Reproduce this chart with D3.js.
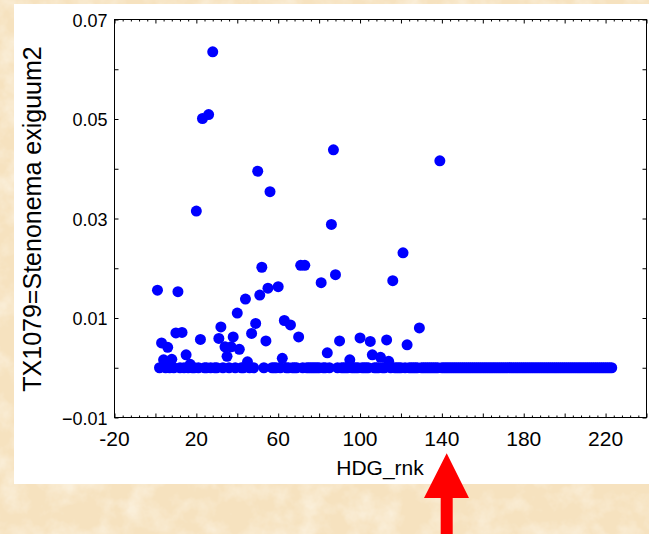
<!DOCTYPE html>
<html>
<head>
<meta charset="utf-8">
<script src="https://cdn.jsdelivr.net/npm/d3@7"></script>
<style>
  html, body { margin: 0; padding: 0; background: #f6e3bf; }
  svg { display: block; }
  text { font-family: "Liberation Sans", Arial, sans-serif; fill: #000; }
</style>
</head>
<body>
<svg id="chart" width="649" height="534"></svg>
<script>
// ---- Data ----
const xTitle = "HDG_rnk";
const yTitle = "TX1079=Stenonema exiguum2";
const xTickLabels = [-20, 20, 60, 100, 140, 180, 220];
const yTickLabels = [-0.01, 0.01, 0.03, 0.05, 0.07];

// sites with a non-zero value: rank and value
const nonzeroRank = [1, 3, 4, 6, 8, 10, 11, 13, 15, 17, 20, 22, 23, 26, 28, 31, 32, 34, 35, 37,
  38, 40, 41, 44, 45, 47, 49, 50, 51, 52, 54, 55, 56, 60, 62, 63, 66, 70, 71, 73,
  81, 84, 86, 87, 88, 90, 95, 100, 105, 106, 110, 113, 114, 116, 121, 123, 129, 139];
const nonzeroValue = [0.0156, 0.0050, 0.0016, 0.0041, 0.0017, 0.0070, 0.0153, 0.0071, 0.0026, 0.0007,
  0.0315, 0.0057, 0.0501, 0.0509, 0.0635, 0.0059, 0.0082, 0.0042, 0.0023, 0.0042,
  0.0062, 0.0110, 0.0037, 0.0138, 0.0012, 0.0069, 0.0089, 0.0395, 0.0146, 0.0202,
  0.0054, 0.0160, 0.0354, 0.0163, 0.0019, 0.0095, 0.0086, 0.0062, 0.0206, 0.0206,
  0.0171, 0.0030, 0.0288, 0.0438, 0.0187, 0.0054, 0.0016, 0.0060, 0.0053, 0.0026,
  0.0021, 0.0056, 0.0013, 0.0175, 0.0231, 0.0046, 0.0080, 0.0416];

// sites with a value of 0
const zeroRank = [2, 5, 7, 9, 12, 14, 16, 18, 19, 21, 24, 25, 27, 29, 30, 33, 36, 39, 42, 43,
  46, 48, 53, 57, 58, 59, 61, 64, 65, 67, 68, 69, 72, 74, 75, 76, 77, 78, 79, 80,
  82, 83, 85, 89, 91, 92, 93, 94, 96, 97, 98, 99, 101, 102, 103, 104, 107, 108, 109, 111,
  112, 115, 117, 118, 119, 120, 122, 124, 125, 126, 127, 128, 130, 131, 132, 133, 134, 135, 136, 137,
  138, 140, 141, 142, 143, 144, 145, 146, 147, 148, 149, 150, 151, 152, 153, 154, 155, 156, 157, 158,
  159, 160, 161, 162, 163, 164, 165, 166, 167, 168, 169, 170, 171, 172, 173, 174, 175, 176, 177, 178,
  179, 180, 181, 182, 183, 184, 185, 186, 187, 188, 189, 190, 191, 192, 193, 194, 195, 196, 197, 198,
  199, 200, 201, 202, 203, 204, 205, 206, 207, 208, 209, 210, 211, 212, 213, 214, 215, 216, 217, 218,
  219, 220, 221, 222, 223];

// ---- Drawing ----
const svg = d3.select("#chart");

// parchment background
const defs = svg.append("defs");
const f = defs.append("filter").attr("id", "paper").attr("x", 0).attr("y", 0).attr("width", "100%").attr("height", "100%");
f.append("feTurbulence").attr("type", "fractalNoise").attr("baseFrequency", "0.04").attr("numOctaves", 4).attr("seed", 7);
f.append("feColorMatrix").attr("type", "matrix")
  .attr("values", "0 0 0 0 1  0 0 0 0 0.98  0 0 0 0 0.92  1.1 0 0 0 -0.45");
svg.append("rect").attr("width", 649).attr("height", 534).attr("fill", "#f6e2bf");
svg.append("rect").attr("width", 649).attr("height", 534).attr("filter", "url(#paper)");

// white panel
svg.append("rect").attr("x", 14).attr("y", 4).attr("width", 635).attr("height", 480).attr("fill", "#fff");

const L = 114.5, R = 646.5, T = 19.5, B = 417.5;
const x = d3.scaleLinear().domain([-20, 240]).range([L, R]);
const y = d3.scaleLinear().domain([-0.01, 0.07]).range([B, T]);

const xMajor = d3.range(-20, 241, 20);
const xMinor = d3.range(-20, 241, 4).filter(v => (v + 20) % 20 !== 0);
const yMajor = d3.range(-0.01, 0.0701, 0.01);

const g = svg.append("g");

// ticks (inward, all four sides)
function addAxis(axisGen, transform) {
  const a = g.append("g").attr("transform", transform).call(axisGen);
  a.select(".domain").remove();
  a.selectAll("text").remove();
  a.selectAll("line").attr("stroke", "#000").attr("stroke-width", 1);
  return a;
}
addAxis(d3.axisBottom(x).tickValues(xMajor).tickSize(-4), `translate(0,${B})`);
addAxis(d3.axisBottom(x).tickValues(xMinor).tickSize(-2), `translate(0,${B})`);
addAxis(d3.axisTop(x).tickValues(xMajor).tickSize(-4), `translate(0,${T})`);
addAxis(d3.axisTop(x).tickValues(xMinor).tickSize(-2), `translate(0,${T})`);
addAxis(d3.axisLeft(y).tickValues(yMajor).tickSize(-4), `translate(${L},0)`);
addAxis(d3.axisRight(y).tickValues(yMajor).tickSize(-4), `translate(${R},0)`);

// frame
g.append("rect").attr("x", L).attr("y", T).attr("width", R - L).attr("height", B - T)
  .attr("fill", "none").attr("stroke", "#000").attr("stroke-width", 1);

// tick labels
const fmtY = d3.format(".2f");
g.selectAll(".ylab").data(yTickLabels).join("text")
  .attr("x", L - 7).attr("y", d => y(d) + 1).attr("dy", "0.35em")
  .attr("text-anchor", "end").attr("font-size", 18)
  .text(d => fmtY(d));
g.selectAll(".xlab").data(xTickLabels).join("text")
  .attr("x", d => x(d)).attr("y", B + 28)
  .attr("text-anchor", "middle").attr("font-size", 21)
  .text(d => d);

// titles
g.append("text").attr("x", 380).attr("y", 475).attr("text-anchor", "middle")
  .attr("font-size", 21).text(xTitle);
g.append("text").attr("transform", "translate(41,219) rotate(-90)").attr("text-anchor", "middle")
  .attr("font-size", 25).text(yTitle);

// points
const pts = zeroRank.map(r => ({ r, v: 0 }))
  .concat(nonzeroRank.map((r, i) => ({ r, v: nonzeroValue[i] })));
g.append("g").selectAll("circle").data(pts).join("circle")
  .attr("cx", d => x(d.r)).attr("cy", d => y(d.v)).attr("r", 5.5)
  .attr("fill", "#0000ff");

// red arrow pointing at the axis
const arrow = d3.path();
arrow.moveTo(446.7, 453.3);
arrow.lineTo(469, 498);
arrow.lineTo(452.7, 498);
arrow.lineTo(452.7, 534);
arrow.lineTo(440.7, 534);
arrow.lineTo(440.7, 498);
arrow.lineTo(424, 498);
arrow.closePath();
svg.append("path").attr("d", arrow.toString()).attr("fill", "#ff0000");
</script>
</body>
</html>
